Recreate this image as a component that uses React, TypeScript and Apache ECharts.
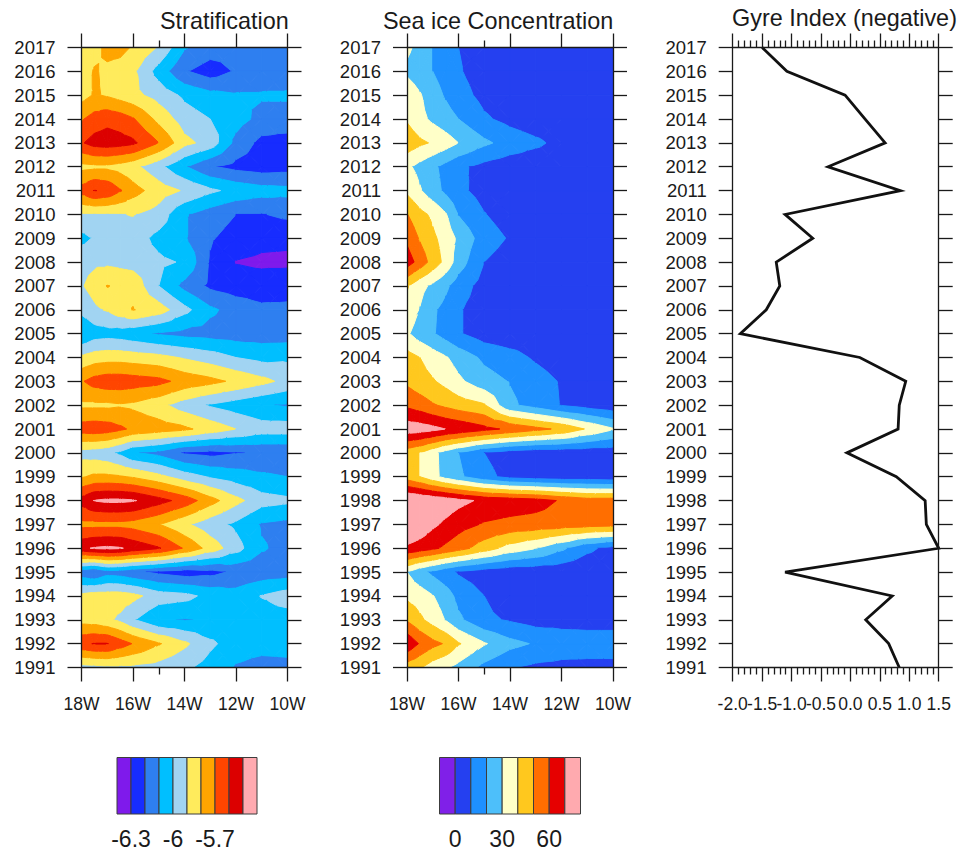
import React, { useEffect, useRef } from "react";
import * as echarts from "echarts";

const FONT = "'Liberation Sans', Arial, sans-serif";
const INK = "#1a1a1a";

const years = [2017, 2016, 2015, 2014, 2013, 2012, 2011, 2010, 2009, 2008, 2007, 2006, 2005, 2004, 2003, 2002, 2001, 2000, 1999, 1998, 1997, 1996, 1995, 1994, 1993, 1992, 1991];
const longitudes = [18, 17.5, 17, 16.5, 16, 15, 14, 13, 12, 11, 10];

const stratLevels = [-6.3, -6.2, -6.1, -6, -5.9, -5.8, -5.7, -5.6, -5.5];
const stratColors = ["#7f1aeb", "#172cff", "#2e7ff0", "#00bfff", "#a1d4f2", "#ffeb5c", "#ffa500", "#ff4500", "#dc0000", "#ffaab0"];
const stratLegendTicks = [1, 4, 7];
const stratLegendLabels = ["-6.3", "-6", "-5.7"];

const iceLevels = [0, 10, 20, 30, 40, 50, 60, 70];
const iceColors = ["#8020e8", "#2540f0", "#1e90ff", "#4dbffa", "#ffffc8", "#ffc81e", "#ff6e00", "#e60000", "#ffaaaf"];
const iceLegendTicks = [1, 4, 7];
const iceLegendLabels = ["0", "30", "60"];

const gyreLabelsA = [-2, -1, 0, 1];
const gyreLabelsB = [-1.5, -0.5, 0.5, 1.5];

const stratification = [
  [-5.89, -5.84, -5.77, -5.77, -5.81, -5.91, -6.09, -6.15, -6.16, -6.15, -6.14],
  [-5.86, -5.79, -5.82, -5.84, -5.88, -6.04, -6.19, -6.25, -6.19, -6.16, -6.14],
  [-5.84, -5.79, -5.81, -5.84, -5.87, -5.94, -6.02, -6.07, -6.09, -6.09, -6.09],
  [-5.71, -5.66, -5.63, -5.65, -5.69, -5.83, -5.95, -6.0, -6.06, -6.13, -6.13],
  [-5.61, -5.56, -5.55, -5.56, -5.58, -5.7, -5.87, -5.94, -6.13, -6.23, -6.25],
  [-5.83, -5.82, -5.82, -5.84, -5.87, -5.97, -6.09, -6.19, -6.23, -6.25, -6.24],
  [-5.66, -5.595, -5.62, -5.69, -5.76, -5.85, -5.91, -5.98, -6.03, -6.06, -6.07],
  [-5.91, -5.91, -5.91, -5.905, -5.895, -5.94, -6.09, -6.15, -6.2, -6.205, -6.18],
  [-6.03, -5.99, -5.95, -5.94, -5.95, -6.03, -6.09, -6.19, -6.24, -6.27, -6.28],
  [-5.93, -5.92, -5.92, -5.93, -5.94, -5.98, -6.01, -6.21, -6.305, -6.32, -6.32],
  [-5.91, -5.86, -5.795, -5.82, -5.83, -6.0, -6.13, -6.22, -6.25, -6.25, -6.24],
  [-5.97, -5.92, -5.89, -5.84, -5.795, -5.85, -5.97, -6.08, -6.14, -6.18, -6.18],
  [-6.105, -6.05, -6.04, -6.05, -6.07, -6.11, -6.13, -6.14, -6.15, -6.15, -6.15],
  [-5.88, -5.85, -5.84, -5.84, -5.85, -5.87, -5.91, -5.95, -6.0, -6.03, -6.02],
  [-5.71, -5.66, -5.64, -5.64, -5.65, -5.67, -5.735, -5.77, -5.82, -5.87, -5.93],
  [-5.82, -5.82, -5.82, -5.81, -5.82, -5.87, -5.95, -6.01, -6.05, -6.09, -6.11],
  [-5.65, -5.64, -5.65, -5.68, -5.72, -5.75, -5.78, -5.84, -5.9, -5.95, -5.95],
  [-5.94, -5.95, -5.97, -6.02, -6.09, -6.13, -6.21, -6.23, -6.205, -6.19, -6.19],
  [-5.81, -5.78, -5.78, -5.79, -5.81, -5.87, -5.95, -6.01, -6.05, -6.08, -6.1],
  [-5.56, -5.495, -5.48, -5.48, -5.49, -5.56, -5.64, -5.76, -5.87, -5.96, -5.98],
  [-5.73, -5.73, -5.73, -5.73, -5.74, -5.795, -5.88, -5.96, -6.02, -6.11, -6.13],
  [-5.52, -5.49, -5.48, -5.49, -5.53, -5.59, -5.71, -5.84, -5.96, -6.09, -6.13],
  [-6.17, -6.2, -6.14, -6.15, -6.18, -6.22, -6.25, -6.23, -6.18, -6.16, -6.15],
  [-5.87, -5.85, -5.85, -5.85, -5.87, -5.95, -5.97, -6.03, -6.06, -5.995, -5.95],
  [-5.84, -5.85, -5.88, -5.92, -5.99, -6.09, -6.105, -6.09, -6.07, -6.05, -6.05],
  [-5.62, -5.595, -5.595, -5.65, -5.705, -5.79, -5.88, -5.98, -6.05, -6.06, -6.06],
  [-5.94, -5.93, -5.92, -5.92, -5.92, -5.94, -5.98, -6.04, -6.11, -6.14, -6.13],
];

const seaIce = [
  [32, 27, 20, 15, 10, 5, 3, 2, 2, 2, 2],
  [28, 24, 20, 16, 11, 5, 3, 2, 2, 2, 2],
  [37, 31, 24, 19, 14, 7, 4, 3, 3, 3, 3],
  [39, 33, 28, 24, 20, 11.5, 7, 4, 3, 3, 3],
  [46, 42, 39, 35, 30, 22, 16, 12, 7, 4, 3],
  [32, 27, 22, 17, 12, 7, 4, 3, 3, 3, 3],
  [38, 31, 24, 18, 12.5, 6, 4, 3, 3, 3, 3],
  [50.5, 43, 38, 31, 19.5, 10.5, 5, 3, 2, 2, 2],
  [58, 49, 42, 36, 28, 15, 9, 5, 3, 3, 3],
  [65, 56, 46, 37, 25, 10, 5, 3, 3, 3, 3],
  [41, 33, 28, 22, 15, 6, 4, 3, 3, 3, 3],
  [37, 29.5, 21.5, 17, 11, 5, 3, 3, 3, 3, 3],
  [31.5, 25, 21, 16, 11, 5, 3, 3, 3, 3, 3],
  [44, 40, 35, 31, 26, 18, 14, 8.5, 4, 3, 3],
  [48, 44, 41, 37, 32, 24, 19.5, 15, 9, 5, 4],
  [58, 55, 51, 48, 45, 41, 22, 16, 9.5, 6, 3],
  [76, 75, 73, 70, 68, 63, 58, 53, 48, 39, 31],
  [44, 40, 33, 26, 20, 10, 5, 3, 3, 3, 3],
  [45, 40, 33, 27, 22, 13, 7, 5, 4, 4, 3],
  [82, 80, 78, 76, 73, 68, 66, 64, 59, 55, 55],
  [82, 78, 72, 68, 64, 59, 57, 56, 55, 54, 53],
  [68, 65, 62, 58, 54, 45, 36, 30.5, 22, 12, 7],
  [30, 23, 18, 13, 9, 5, 3, 3, 3, 3, 3],
  [38, 35, 30.5, 25, 17, 10, 5, 3, 3, 3, 3],
  [49, 42, 36, 29.5, 22, 12, 9, 6, 6, 6, 6],
  [68, 59, 53, 49, 41, 31, 23, 19, 16, 15, 15],
  [45, 41, 35, 31, 27, 17, 10.5, 8, 7, 7, 7],
];

const gyreIndex = [-1.5, -1.08, -0.09, 0.25, 0.59, -0.38, 0.85, -1.11, -0.64, -1.26, -1.2, -1.43, -1.87, 0.16, 0.94, 0.83, 0.81, -0.06, 0.78, 1.27, 1.29, 1.5, -1.11, 0.71, 0.26, 0.65, 0.83];

type V = [number, number, number];

function clipBy(poly: V[], level: number, above: boolean): V[] {
  const out: V[] = [];
  const inside = (p: V) => (above ? p[2] >= level : p[2] <= level);
  for (let i = 0; i < poly.length; i++) {
    const a = poly[i];
    const b = poly[(i + 1) % poly.length];
    const ia = inside(a);
    const ib = inside(b);
    if (ia) out.push(a);
    if (ia !== ib) {
      const t = (level - a[2]) / (b[2] - a[2]);
      out.push([a[0] + (b[0] - a[0]) * t, a[1] + (b[1] - a[1]) * t, level]);
    }
  }
  return out;
}

function contourCells(rows: number[][]) {
  const cells: number[][] = [];
  for (let r = 0; r < years.length - 1; r++) {
    for (let c = 0; c < longitudes.length - 1; c++) {
      cells.push([
        -longitudes[c], -longitudes[c + 1], years[r], years[r + 1],
        rows[r][c], rows[r][c + 1], rows[r + 1][c + 1], rows[r + 1][c],
      ]);
    }
  }
  return cells;
}

function contourRenderer(levels: number[], colors: string[]) {
  const bandOf = (v: number) => {
    let b = 0;
    while (b < levels.length && v > levels[b]) b++;
    return b;
  };
  return (_params: any, api: any) => {
    const x0 = api.value(0), x1 = api.value(1), y0 = api.value(2), y1 = api.value(3);
    const vs = [api.value(4), api.value(5), api.value(6), api.value(7)];
    const corners = [api.coord([x0, y0]), api.coord([x1, y0]), api.coord([x1, y1]), api.coord([x0, y1])];
    const paint = (pts: number[][], b: number) => ({
      type: "polygon",
      silent: true,
      shape: { points: pts },
      style: { fill: colors[b], stroke: colors[b], lineWidth: 1 },
    });
    const b0 = bandOf(vs[0]);
    if (vs.every((v: number) => bandOf(v) === b0)) return paint(corners, b0);
    const mid = [(corners[0][0] + corners[2][0]) / 2, (corners[0][1] + corners[2][1]) / 2];
    const mv = (vs[0] + vs[1] + vs[2] + vs[3]) / 4;
    const children: any[] = [];
    for (let k = 0; k < 4; k++) {
      const m = (k + 1) % 4;
      const tri: V[] = [
        [corners[k][0], corners[k][1], vs[k]],
        [corners[m][0], corners[m][1], vs[m]],
        [mid[0], mid[1], mv],
      ];
      for (let b = 0; b < colors.length; b++) {
        let poly = tri;
        if (b > 0) poly = clipBy(poly, levels[b - 1], true);
        if (poly.length >= 3 && b < levels.length) poly = clipBy(poly, levels[b], false);
        if (poly.length >= 3) children.push(paint(poly.map((p) => [p[0], p[1]]), b));
      }
    }
    return { type: "group", children };
  };
}

function legendRenderer(colors: string[]) {
  return (_params: any, api: any) => {
    const i = api.value(0);
    const a = api.coord([i, 1]);
    const b = api.coord([i + 1, 0]);
    return {
      type: "rect",
      shape: { x: a[0], y: a[1], width: b[0] - a[0], height: b[1] - a[1] },
      style: { fill: colors[i], stroke: "#3c3c3c", lineWidth: 1 },
    };
  };
}

const lineStyle = { color: INK, width: 1.3 };

export default function App() {
  const ref = useRef<HTMLDivElement>(null);
  useEffect(() => {
    const chart = echarts.init(ref.current!, undefined, { renderer: "svg" });

    const grid: any[] = [];
    const xAxis: any[] = [];
    const yAxis: any[] = [];
    const series: any[] = [];

    const addPanel = (left: number, width: number, xCfg: any) => {
      const g = grid.length;
      grid.push({ left, width, top: 47.5, height: 620 });
      const baseX = {
        gridIndex: g, type: "value", z: 6, ...xCfg.range, splitLine: { show: false },
        axisLine: { show: true, lineStyle, onZero: false },
      };
      const labelStyle = { show: true, margin: 27, fontFamily: FONT, fontSize: 17.5, color: INK, formatter: xCfg.fmt, hideOverlap: false };
      const xIdx = xAxis.length;
      xAxis.push({
        ...baseX, position: "bottom",
        axisTick: { show: true, length: 14, lineStyle },
        minorTick: xCfg.minor,
        axisLabel: xCfg.labelSets ? { ...labelStyle, customValues: xCfg.labelSets[0] } : labelStyle,
      });
      xAxis.push({
        ...baseX, position: "top",
        axisTick: { show: true, length: 14, lineStyle },
        minorTick: xCfg.minor,
        axisLabel: { show: false },
      });
      if (xCfg.labelSets) {
        xAxis.push({
          ...baseX, position: "bottom",
          axisLine: { show: false },
          axisTick: { show: false },
          axisLabel: { ...labelStyle, customValues: xCfg.labelSets[1] },
        });
      }
      if (xCfg.extraTick) {
        for (const position of ["bottom", "top"]) {
          xAxis.push({
            ...baseX, position,
            axisLine: { show: false },
            axisTick: { show: true, length: 7, lineStyle, customValues: xCfg.extraTick },
            axisLabel: { show: false },
          });
        }
      }
      const baseY = {
        gridIndex: g, type: "value", z: 6, min: 1991, max: 2017, interval: 1, splitLine: { show: false },
        axisLine: { show: true, lineStyle, onZero: false },
        axisTick: { show: true, length: 14, lineStyle },
      };
      const yIdx = yAxis.length;
      yAxis.push({
        ...baseY, position: "left",
        axisLabel: { show: true, margin: 26, fontFamily: FONT, fontSize: 18.5, color: INK, formatter: (v: number) => String(v) },
      });
      yAxis.push({ ...baseY, position: "right", axisLabel: { show: false } });
      return { xIdx, yIdx };
    };

    const lonFmt = (v: number) => `${-v}W`;
    const lonRange = { min: -18, max: -10, interval: 2 };

    const p1 = addPanel(81.5, 206, { range: lonRange, fmt: lonFmt, extraTick: [-15] });
    series.push({
      type: "custom", coordinateSystem: "cartesian2d", xAxisIndex: p1.xIdx, yAxisIndex: p1.yIdx, silent: true, clip: true,
      data: contourCells(stratification), encode: { x: [0, 1], y: [2, 3] },
      renderItem: contourRenderer(stratLevels, stratColors),
    });

    const p2 = addPanel(407, 206, { range: lonRange, fmt: lonFmt, extraTick: [-15] });
    series.push({
      type: "custom", coordinateSystem: "cartesian2d", xAxisIndex: p2.xIdx, yAxisIndex: p2.yIdx, silent: true, clip: true,
      data: contourCells(seaIce), encode: { x: [0, 1], y: [2, 3] },
      renderItem: contourRenderer(iceLevels, iceColors),
    });

    const p3 = addPanel(732.7, 206, {
      range: { min: -2, max: 1.5, interval: 0.5 },
      fmt: (v: number) => v.toFixed(1),
      labelSets: [gyreLabelsA, gyreLabelsB],
      minor: { show: true, splitNumber: 5, length: 7, lineStyle },
    });
    series.push({
      type: "line", xAxisIndex: p3.xIdx, yAxisIndex: p3.yIdx, symbol: "none", silent: true,
      lineStyle: { color: "#111", width: 2.8, join: "miter" },
      data: years.map((y, i) => [gyreIndex[i], y]),
    });

    const addLegend = (left: number, width: number, colors: string[], ticks: number[], labels: string[]) => {
      const g = grid.length;
      grid.push({ left, width, top: 757.5, height: 56.5 });
      const xIdx = xAxis.length;
      const yIdx = yAxis.length;
      xAxis.push({
        gridIndex: g, type: "value", min: 0, max: colors.length, splitLine: { show: false },
        axisLine: { show: false }, axisTick: { show: false },
        axisLabel: {
          show: true, margin: 13, fontFamily: FONT, fontSize: 23, color: INK, customValues: ticks,
          formatter: (v: number) => labels[ticks.indexOf(v)] ?? "",
        },
      });
      yAxis.push({ gridIndex: g, type: "value", min: 0, max: 1, show: false });
      series.push({
        type: "custom", coordinateSystem: "cartesian2d", xAxisIndex: xIdx, yAxisIndex: yIdx, silent: true,
        data: colors.map((_, i) => [i]), encode: { x: 0 },
        renderItem: legendRenderer(colors),
      });
    };
    addLegend(117, 140, stratColors, stratLegendTicks, stratLegendLabels);
    addLegend(439.5, 141, iceColors, iceLegendTicks, iceLegendLabels);

    const titleStyle = { fontFamily: FONT, fontWeight: "normal", fontSize: 23.4, color: INK };
    chart.setOption({
      animation: false,
      backgroundColor: "#ffffff",
      title: [
        { text: "Stratification", left: 160, top: 9, padding: 0, textStyle: titleStyle },
        { text: "Sea ice Concentration", left: 383, top: 9, padding: 0, textStyle: titleStyle },
        { text: "Gyre Index (negative)", left: 732, top: 6, padding: 0, textStyle: titleStyle },
      ],
      grid, xAxis, yAxis, series,
    });
    return () => chart.dispose();
  }, []);
  return <div ref={ref} style={{ position: "fixed", left: 0, top: 0, width: 960, height: 854 }} />;
}
